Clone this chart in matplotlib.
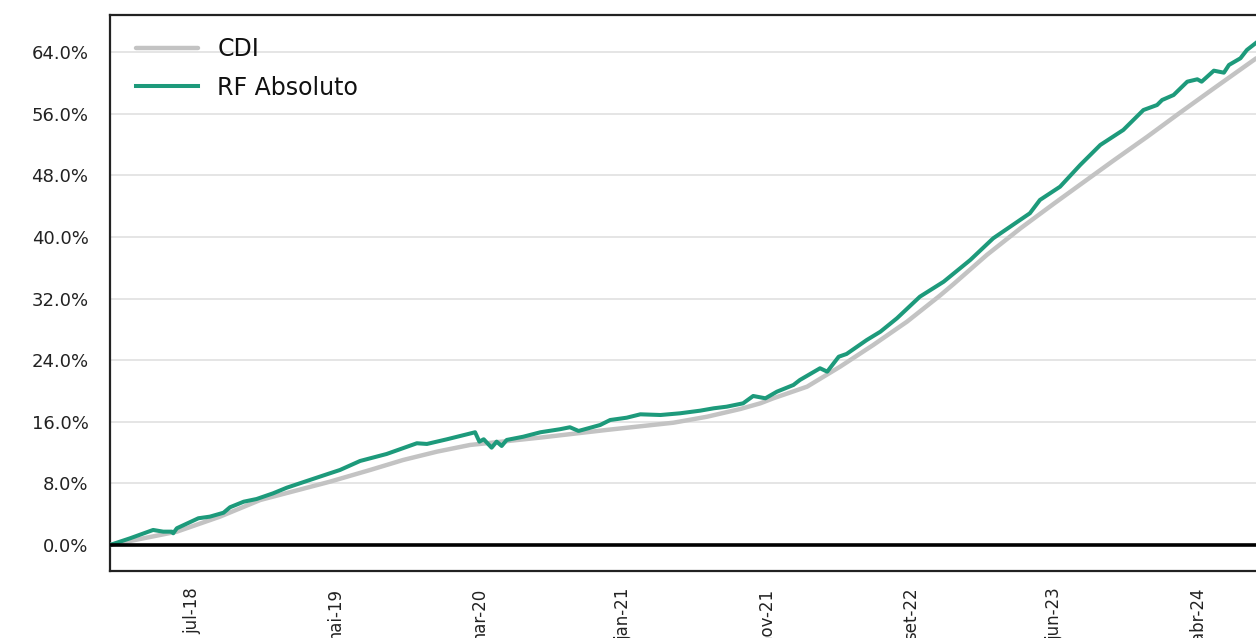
import matplotlib
matplotlib.use("Agg")
import matplotlib.pyplot as plt
from matplotlib.ticker import FuncFormatter

# business-day index (0 = start of series) and cumulative return in %
cdi_x = [0, 93, 153, 209, 306, 362, 408, 455, 501, 524, 599, 691, 784, 831, 877,
         905, 923, 970, 1016, 1062, 1109, 1155, 1174, 1220, 1267, 1313, 1350, 1396,
         1443, 1489, 1536, 1595]
cdi_y = [0.00, 1.73, 3.68, 5.84, 8.22, 9.74, 11.04, 12.12, 12.99, 13.21, 13.95, 14.94,
         15.88, 16.66, 17.66, 18.40, 19.05, 20.56, 23.16, 25.97, 29.00, 32.40, 33.90,
         37.66, 41.13, 44.30, 46.80, 49.90, 53.00, 56.15, 59.30, 63.21]

rf_x = [0, 28, 60, 74, 86, 88, 93, 123, 139, 158, 167, 186, 204, 227, 246, 278, 306,
        320, 348, 385, 427, 441, 469, 497, 508, 514, 520, 531, 538, 545, 552, 575, 599,
        626, 640, 652, 682, 696, 719, 738, 766, 793, 821, 840, 858, 881, 895, 912, 928,
        951, 960, 988, 998, 1014, 1025, 1053, 1072, 1095, 1127, 1160, 1197, 1229, 1280,
        1294, 1322, 1350, 1378, 1410, 1438, 1457, 1464, 1480, 1499, 1513, 1519, 1536,
        1550, 1557, 1573, 1582, 1594]
rf_y = [0.00, 0.87, 1.95, 1.73, 1.73, 1.52, 2.17, 3.47, 3.68, 4.19, 4.90, 5.62, 5.97,
        6.71, 7.44, 8.44, 9.31, 9.74, 10.91, 11.82, 13.21, 13.12, 13.73, 14.38, 14.64,
        13.42, 13.73, 12.64, 13.42, 12.86, 13.64, 14.06, 14.64, 15.03, 15.29, 14.81,
        15.58, 16.23, 16.53, 16.97, 16.88, 17.10, 17.44, 17.75, 17.96, 18.40, 19.35,
        19.05, 19.91, 20.78, 21.43, 22.95, 22.51, 24.45, 24.81, 26.62, 27.70, 29.44,
        32.25, 34.19, 37.01, 39.83, 43.08, 44.81, 46.53, 49.35, 51.95, 53.90, 56.49,
        57.14, 57.79, 58.44, 60.17, 60.48, 60.17, 61.60, 61.34, 62.34, 63.21, 64.29,
        65.16]

tick_labels = ["jul-18", "mai-19", "mar-20", "jan-21", "nov-21", "set-22", "jun-23", "abr-24"]
tick_start = 114
tick_step = 200
y_ticks = [0, 8, 16, 24, 32, 40, 48, 56, 64]

plt.rcParams['font.family'] = ['DejaVu Sans']

fig = plt.figure(figsize=(12.56, 6.38), dpi=100)
W, H = 1256, 638
ax = fig.add_axes([110 / W, (H - 571) / H, (1262 - 110) / W, (571 - 15) / H])

ax.plot(cdi_x, cdi_y, color="#c3c3c3", lw=3.2, label="CDI", solid_capstyle="round", zorder=3)
ax.plot(rf_x, rf_y, color="#1d9a7b", lw=2.9, label="RF Absoluto", zorder=4)
ax.axhline(0, color="black", lw=2.6, zorder=5)

ax.set_xlim(0, 1603)
ax.set_ylim(-3.38, 68.83)
ax.set_yticks(y_ticks)
ax.yaxis.set_major_formatter(FuncFormatter(lambda v, p: f"{v:.1f}%"))
ax.set_xticks([tick_start + tick_step * k for k in range(len(tick_labels))])
ax.set_xticklabels(tick_labels, rotation=90, va="top", ha="center")

ax.grid(axis="y", color="#e3e3e3", lw=1.3, zorder=0)
ax.set_axisbelow(True)
ax.tick_params(axis="y", length=0, pad=15.5, labelsize=13, colors="#222222")
ax.tick_params(axis="x", length=0, pad=12, labelsize=12, colors="#222222")

for s in ["left", "top", "bottom"]:
    ax.spines[s].set_color("#222222")
    ax.spines[s].set_linewidth(1.6)
ax.spines["right"].set_visible(False)

leg = ax.legend(loc="upper left", bbox_to_anchor=(0.004, 0.998), frameon=False,
                fontsize=17, handlelength=2.65, handletextpad=0.8, labelspacing=0.6)
for t in leg.get_texts():
    t.set_color("#111111")

fig.savefig("out.png", dpi=100)
